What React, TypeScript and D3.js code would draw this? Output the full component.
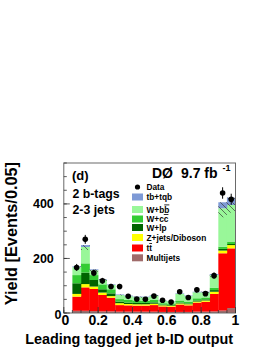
import React from "react";
import * as d3 from "d3";

const binLow = [0.05, 0.1, 0.15, 0.2, 0.25, 0.3, 0.35, 0.4, 0.45, 0.5, 0.55, 0.6, 0.65, 0.7, 0.75, 0.8, 0.85, 0.9, 0.95];
const binWidth = 0.05;

const multijets = [8, 8, 7, 6, 6, 5, 5, 5, 5, 5, 4, 4, 4, 4, 5, 5, 6, 9, 18];
const ttbar = [52, 86, 81, 60, 50, 24, 23, 22, 22, 24, 20, 19, 27, 24, 33, 36, 64, 210, 219];
const zjets = [10, 12, 9, 9, 6, 7, 5, 5, 5, 5, 4, 4, 4, 4, 4, 5, 8, 10, 12];
const wlp = [39, 42, 24, 12, 10, 6, 5, 5, 5, 5, 3, 3, 3, 3, 4, 4, 6, 6, 4];
const wcc = [30, 34, 18, 18, 15, 9, 10, 9, 8, 10, 5, 5, 8, 7, 8, 7, 8, 8, 9];
const wbb = [29, 60, 18, 17, 16, 15, 14, 12, 13, 15, 9, 8, 24, 20, 22, 19, 47, 141, 134];
const tbtqb = [3, 7, 3, 2, 2, 2, 2, 2, 2, 2, 1, 1, 2, 2, 2, 2, 4, 22, 27];
const uncert = [10, 18, 9, 7, 6, 4, 4, 4, 4, 4, 3, 3, 4, 4, 5, 5, 10, 55, 55];

const dataValues = [167, 270, 147, 118, 97, 97, 61, 51, 50, 62, 47, 40, 78, 57, 85, 71, 137, 440, 417];

const xTicks = [0, 0.2, 0.4, 0.6, 0.8, 1];
const xTickLabels = ["0", "0.2", "0.4", "0.6", "0.8", "1"];
const yTicks = [0, 200, 400];
const yTickLabels = ["0", "200", "400"];

const seriesNames = ["Multijets", "ttbar", "Z+jets/Diboson", "W+lp", "W+cc", "W+bb", "tb+tqb"];
const seriesColors = ["#a06b6a", "#ff0000", "#ffff00", "#006400", "#33cc33", "#99f799", "#7e9ad6"];
const seriesValues = [multijets, ttbar, zjets, wlp, wcc, wbb, tbtqb];

const FONT = "'Liberation Sans', Arial, Helvetica, sans-serif";

export default function App() {
  const W = 270, H = 349;
  const x = d3.scaleLinear().domain([0, 1]).range([63.8, 235.5]);
  const y = d3.scaleLinear().domain([0, 550]).range([313, 163]);

  const table = binLow.map((lo, i) => {
    const row: any = { lo };
    seriesNames.forEach((n, k) => (row[n] = seriesValues[k][i]));
    return row;
  });
  const stacked = d3.stack().keys(seriesNames)(table);
  const totals = binLow.map((_, i) => seriesValues.reduce((s, arr) => s + arr[i], 0));

  const xMinor = d3.range(0, 1.0001, 0.05);
  const yMinor = d3.range(0, 551, 50);

  const legendRows = [
    { key: "tb+tqb", color: seriesColors[6], cy: 197 },
    { key: "Wbb", color: seriesColors[5], cy: 209.5 },
    { key: "Wcc", color: seriesColors[4], cy: 219 },
    { key: "Wlp", color: seriesColors[3], cy: 227.5 },
    { key: "Z", color: seriesColors[2], cy: 237.5 },
    { key: "tt", color: seriesColors[1], cy: 248 },
    { key: "Multi", color: seriesColors[0], cy: 257.8 },
  ];

  const legendText = (key: string) => {
    switch (key) {
      case "tb+tqb": return <tspan>tb+tqb</tspan>;
      case "Wbb": return <><tspan>W+b</tspan><tspan textDecoration="overline" style={{ textDecoration: "overline" }}>b</tspan></>;
      case "Wcc": return <><tspan>W+c</tspan><tspan textDecoration="overline" style={{ textDecoration: "overline" }}>c</tspan></>;
      case "Wlp": return <tspan>W+lp</tspan>;
      case "Z": return <tspan>Z+jets/Diboson</tspan>;
      case "tt": return <><tspan>t</tspan><tspan textDecoration="overline" style={{ textDecoration: "overline" }}>t</tspan></>;
      default: return <tspan>Multijets</tspan>;
    }
  };

  return (
    <svg width={W} height={H} style={{ position: "absolute", left: 0, top: 0, background: "#fff" }} fontFamily={FONT}>
      <defs>
        <pattern id="hatch" patternUnits="userSpaceOnUse" width={6} height={6}>
          <path d="M0,0 L6,6 M-1,5 L1,7 M5,-1 L7,1" stroke="#3a3a3a" strokeWidth={0.7} />
        </pattern>
        <clipPath id="plotclip">
          <rect x={x(0)} y={y(550)} width={x(1) - x(0)} height={y(0) - y(550)} />
        </clipPath>
      </defs>
      <rect x={0} y={0} width={W} height={H} fill="#fff" />

      <g clipPath="url(#plotclip)">
        {stacked.map((layer, k) => (
          <g key={k} fill={seriesColors[k]}>
            {layer.map((d, i) => (
              <rect
                key={i}
                x={x(binLow[i])}
                y={y(d[1])}
                width={x(binLow[i] + binWidth) - x(binLow[i]) + 0.3}
                height={Math.max(0, y(d[0]) - y(d[1]))}
              />
            ))}
          </g>
        ))}
        {binLow.map((lo, i) => (
          <rect
            key={"h" + i}
            x={x(lo)}
            y={y(totals[i])}
            width={x(lo + binWidth) - x(lo)}
            height={y(totals[i] - uncert[i]) - y(totals[i])}
            fill="url(#hatch)"
          />
        ))}
      </g>

      {/* data points */}
      {dataValues.map((v, i) => {
        const cx = x(binLow[i] + binWidth / 2);
        const e = Math.sqrt(v);
        return (
          <g key={"d" + i}>
            <line x1={cx} x2={cx} y1={y(v + e)} y2={y(v - e)} stroke="#000" strokeWidth={1} />
            <circle cx={cx} cy={y(v)} r={2.8} fill="#000" />
          </g>
        );
      })}

      {/* frame */}
      <rect x={x(0)} y={y(550)} width={x(1) - x(0)} height={y(0) - y(550)} fill="none" stroke="#6a6a6a" strokeWidth={1} />

      {/* x ticks */}
      {xMinor.map((t, i) => (
        <line key={"xm" + i} x1={x(t)} x2={x(t)} y1={y(0)} y2={y(0) - 3} stroke="#333" strokeWidth={0.8} />
      ))}
      {xTicks.map((t, i) => (
        <line key={"xM" + i} x1={x(t)} x2={x(t)} y1={y(0)} y2={y(0) - 6} stroke="#333" strokeWidth={0.8} />
      ))}
      {yMinor.map((t, i) => (
        <line key={"ym" + i} x1={x(0)} x2={x(0) + 3} y1={y(t)} y2={y(t)} stroke="#333" strokeWidth={0.8} />
      ))}
      {yTicks.map((t, i) => (
        <line key={"yM" + i} x1={x(0)} x2={x(0) + 6} y1={y(t)} y2={y(t)} stroke="#333" strokeWidth={0.8} />
      ))}

      {/* tick labels */}
      {xTicks.map((t, i) => (
        <text key={"xl" + i} x={x(t) + (i === 0 ? 1.5 : 0)} y={325} textAnchor="middle" fontSize={14} fontWeight="bold">
          {xTickLabels[i]}
        </text>
      ))}
      {yTicks.map((t, i) => (
        <text key={"yl" + i} x={i === 0 ? 61.5 : 53.8} y={y(t) + 4.5 + (i === 0 ? 1 : 0)} textAnchor="end" fontSize={12.5} fontWeight="bold">
          {yTickLabels[i]}
        </text>
      ))}

      {/* axis titles */}
      <text x={233} y={344} textAnchor="end" fontSize={14.4} fontWeight="bold">Leading tagged jet b-ID output</text>
      <text transform="translate(16.5,162) rotate(-90)" textAnchor="end" fontSize={16.3} fontWeight="bold">Yield [Events/0.05]</text>

      {/* annotations */}
      <text x={72} y={180} fontSize={13} fontWeight="bold">(d)</text>
      <text x={72.5} y={197.5} fontSize={12.3} fontWeight="bold">2 b-tags</text>
      <text x={72.5} y={213.5} fontSize={12.3} fontWeight="bold">2-3 jets</text>
      <text x={152} y={178.3} fontSize={14} fontWeight="bold">DØ</text>
      <text x={181} y={178.3} fontSize={14} fontWeight="bold">9.7 fb</text>
      <text x={222.5} y={170.5} fontSize={9} fontWeight="bold">-1</text>

      {/* legend */}
      <circle cx={137.5} cy={187} r={2.6} fill="#000" />
      <text x={146.5} y={190} fontSize={8.3} fontWeight="bold">Data</text>
      {legendRows.map((r, i) => (
        <g key={"lg" + i}>
          <rect x={132} y={r.cy - 3.5} width={11} height={7} fill={r.color} />
          <text x={146.5} y={r.cy + 3} fontSize={8.3} fontWeight="bold">{legendText(r.key)}</text>
        </g>
      ))}
    </svg>
  );
}
